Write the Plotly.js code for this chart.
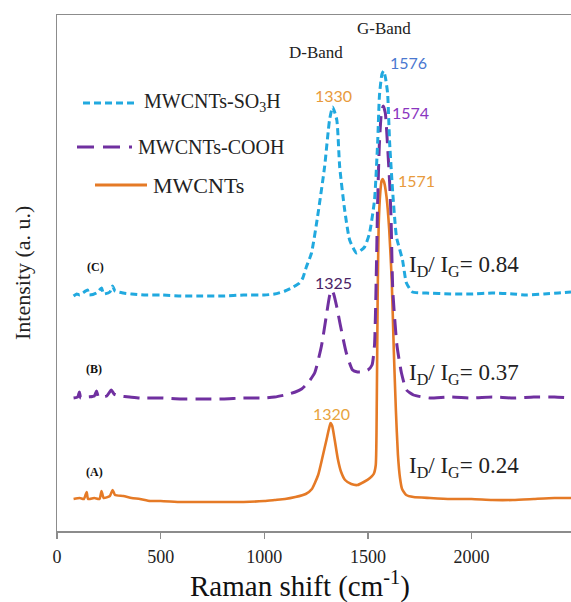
<!DOCTYPE html>
<html>
<head>
<meta charset="utf-8">
<script src="https://cdn.plot.ly/plotly-3.0.1.min.js"></script>
<style>
  html, body { margin: 0; padding: 0; background: #fff; }
  #chart { width: 571px; height: 602px; }
</style>
</head>
<body>
<div id="chart"></div>
<script>
// Raman spectra (a. u.), each series measured from its own baseline
const shiftA = [80,110,130,143,150,180,205,215,225,255,268,280,320,360,400,450,500,600,700,800,900,1000,1050,1100,1150,1200,1230,1260,1280,1300,1313,1320,1328,1340,1355,1370,1390,1420,1450,1480,1510,1528,1538,1543,1547,1552,1560,1566,1571,1578,1590,1603,1615,1625,1635,1645,1655,1665,1685,1720,1800,1900,2000,2100,2200,2300,2400,2480];
const intensityA = [10,20,10,80,10,20,10,90,20,40,100,50,40,20,10,-10,-10,-20,-20,-20,-20,-10,0,10,30,60,110,250,420,600,720,770,740,600,410,285,200,160,150,180,220,260,350,1000,2000,2740,3080,3190,3210,3180,3030,2700,2200,1500,900,450,220,110,50,30,20,10,10,0,0,10,20,20];

const shiftB = [80,100,108,115,150,180,191,200,240,262,275,300,350,400,500,600,700,800,900,1000,1050,1100,1150,1180,1210,1243,1276,1300,1315,1325,1335,1350,1365,1396,1426,1450,1475,1500,1520,1532,1540,1547,1555,1565,1574,1584,1595,1605,1612,1620,1640,1662,1686,1720,1764,1800,1900,2000,2100,2200,2300,2400,2480];
const intensityB = [0,10,60,0,10,20,70,10,20,80,40,20,10,0,0,-10,-10,-10,0,0,10,30,60,90,150,250,520,830,1020,1080,1040,910,750,450,280,260,260,280,330,530,1180,1950,2520,2850,2920,2850,2520,2150,1780,1080,530,250,80,30,10,0,10,0,10,0,10,10,0];

const shiftC = [80,95,110,147,155,190,215,225,255,268,280,320,360,420,500,600,700,800,900,1000,1050,1100,1140,1170,1186,1203,1228,1257,1291,1315,1330,1350,1364,1388,1412,1445,1484,1508,1532,1547,1556,1568,1576,1585,1595,1605,1620,1638,1667,1686,1715,1783,1900,2000,2100,2200,2265,2350,2420,2480];
const intensityC = [-10,10,0,50,0,20,70,10,30,90,40,20,10,0,0,-10,-10,-10,0,0,10,40,80,120,170,280,420,780,1280,1750,1880,1750,1280,850,550,420,480,620,950,1520,2000,2210,2240,2170,2020,1520,1020,580,350,120,30,20,10,10,20,10,0,10,20,30];

// vertical offsets used to stack the three spectra
const stackOffset = { A: 330, B: 1350, C: 2380 };

const seriesNames = ['MWCNTs', 'MWCNTs-COOH', 'MWCNTs-SO<sub>3</sub>H'];
const sampleTags = ['(A)', '(B)', '(C)'];
const ratioLabels = ['0.24', '0.37', '0.84'];
const peakLabelsD = ['1320', '1325', '1330'];
const peakLabelsG = ['1571', '1574', '1576'];
const xTicks = [0, 500, 1000, 1500, 2000];

const orange = '#e57a26';
const purple = '#7030a0';
const cyan = '#21a9df';

const shifted = (arr, off) => arr.map(v => v + off);

const traces = [
  { x: shiftA, y: shifted(intensityA, stackOffset.A), mode: 'lines', name: seriesNames[0],
    line: { color: orange, width: 2.6, shape: 'spline', smoothing: 0.5 } },
  { x: shiftB, y: shifted(intensityB, stackOffset.B), mode: 'lines', name: seriesNames[1],
    line: { color: purple, width: 3, dash: '16px,8px', shape: 'spline', smoothing: 0.5 } },
  { x: shiftC, y: shifted(intensityC, stackOffset.C), mode: 'lines', name: seriesNames[2],
    line: { color: cyan, width: 3, dash: '7px,4px', shape: 'spline', smoothing: 0.5 } }
];

// plot-area geometry helpers (pixels -> paper fractions)
const L = 57, T = 15, W = 514, H = 516;
const px = p => (p - L) / W;
const py = p => (T + H - p) / H;

const serif = 'Liberation Serif';
const sans = 'Lato';

const ann = [];
function txt(x, y, text, size, color, family, extra) {
  ann.push(Object.assign({ xref: 'paper', yref: 'paper', x: px(x), y: py(y), text: text,
    showarrow: false, xanchor: 'center', yanchor: 'middle',
    font: { size: size, color: color, family: family } }, extra || {}));
}

// band titles
txt(316, 52, 'D-Band', 17, '#222', serif);
txt(384, 28, 'G-Band', 17, '#222', serif);

// peak positions
txt(333, 96, peakLabelsD[2], 16, '#e89a3c', sans);
txt(333, 282, peakLabelsD[1], 16, '#4a2466', sans);
txt(331, 413, peakLabelsD[0], 16, '#e8a33d', sans);
txt(408, 62, peakLabelsG[2], 16, '#4a78d0', sans);
txt(410, 112, peakLabelsG[1], 16, '#8a35c0', sans);
txt(416, 180, peakLabelsG[0], 16, '#e89a3c', sans);

// sample tags
txt(95, 267, '<b>' + sampleTags[2] + '</b>', 12, '#111', serif);
txt(94, 369, '<b>' + sampleTags[1] + '</b>', 12, '#111', serif);
txt(94, 472, '<b>' + sampleTags[0] + '</b>', 12, '#111', serif);

// intensity ratios
const ratioY = [467, 374, 266];
ratioLabels.forEach((r, i) => {
  txt(407, ratioY[i], 'I<sub>D</sub>/ I<sub>G</sub>= ' + r, 23, '#222', serif, { xanchor: 'left' });
});

// legend entries
const legendY = [185, 147, 103];
const legendSample = [[95, 147], [77, 132], [83, 138]];
const legendTextX = [151, 136, 142];
const legendSize = [22, 20, 20];
const legendStyle = [
  { color: orange, width: 3 },
  { color: purple, width: 3, dash: '17px,9px' },
  { color: cyan, width: 3, dash: '7px,4px' }
];
const shapes = [];
seriesNames.forEach((n, i) => {
  shapes.push({ type: 'line', xref: 'paper', yref: 'paper',
    x0: px(legendSample[i][0]), x1: px(legendSample[i][1]), y0: py(legendY[i]), y1: py(legendY[i]),
    line: legendStyle[i] });
  txt(legendTextX[i], legendY[i], n, legendSize[i], '#222', serif, { xanchor: 'left' });
});

// axis titles
txt(300, 584, 'Raman shift (cm<sup>-1</sup>)', 29, '#111', serif);
txt(22, 273, 'Intensity (a. u.)', 22, '#222', serif, { textangle: -90 });

const layout = {
  width: 571, height: 602,
  margin: { l: L, r: 0, t: T, b: 602 - T - H },
  paper_bgcolor: '#fff', plot_bgcolor: '#fff',
  font: { family: serif },
  showlegend: false,
  xaxis: {
    range: [0, 2480], tickvals: xTicks, ticktext: xTicks.map(String),
    ticks: 'outside', ticklen: 6, tickcolor: '#8c8c8c', tickwidth: 1.3,
    ticklabelstandoff: 3,
    showline: true, linecolor: '#8c8c8c', linewidth: 1.5, mirror: true,
    showgrid: false, zeroline: false,
    tickfont: { family: serif, size: 18, color: '#222' }
  },
  yaxis: {
    range: [20, 5180], showticklabels: false, ticks: '',
    showline: true, linecolor: '#8c8c8c', linewidth: 1.5,
    showgrid: false, zeroline: false
  },
  annotations: ann,
  shapes: shapes
};

Plotly.newPlot('chart', traces, layout, { displayModeBar: false, staticPlot: true });
</script>
</body>
</html>
